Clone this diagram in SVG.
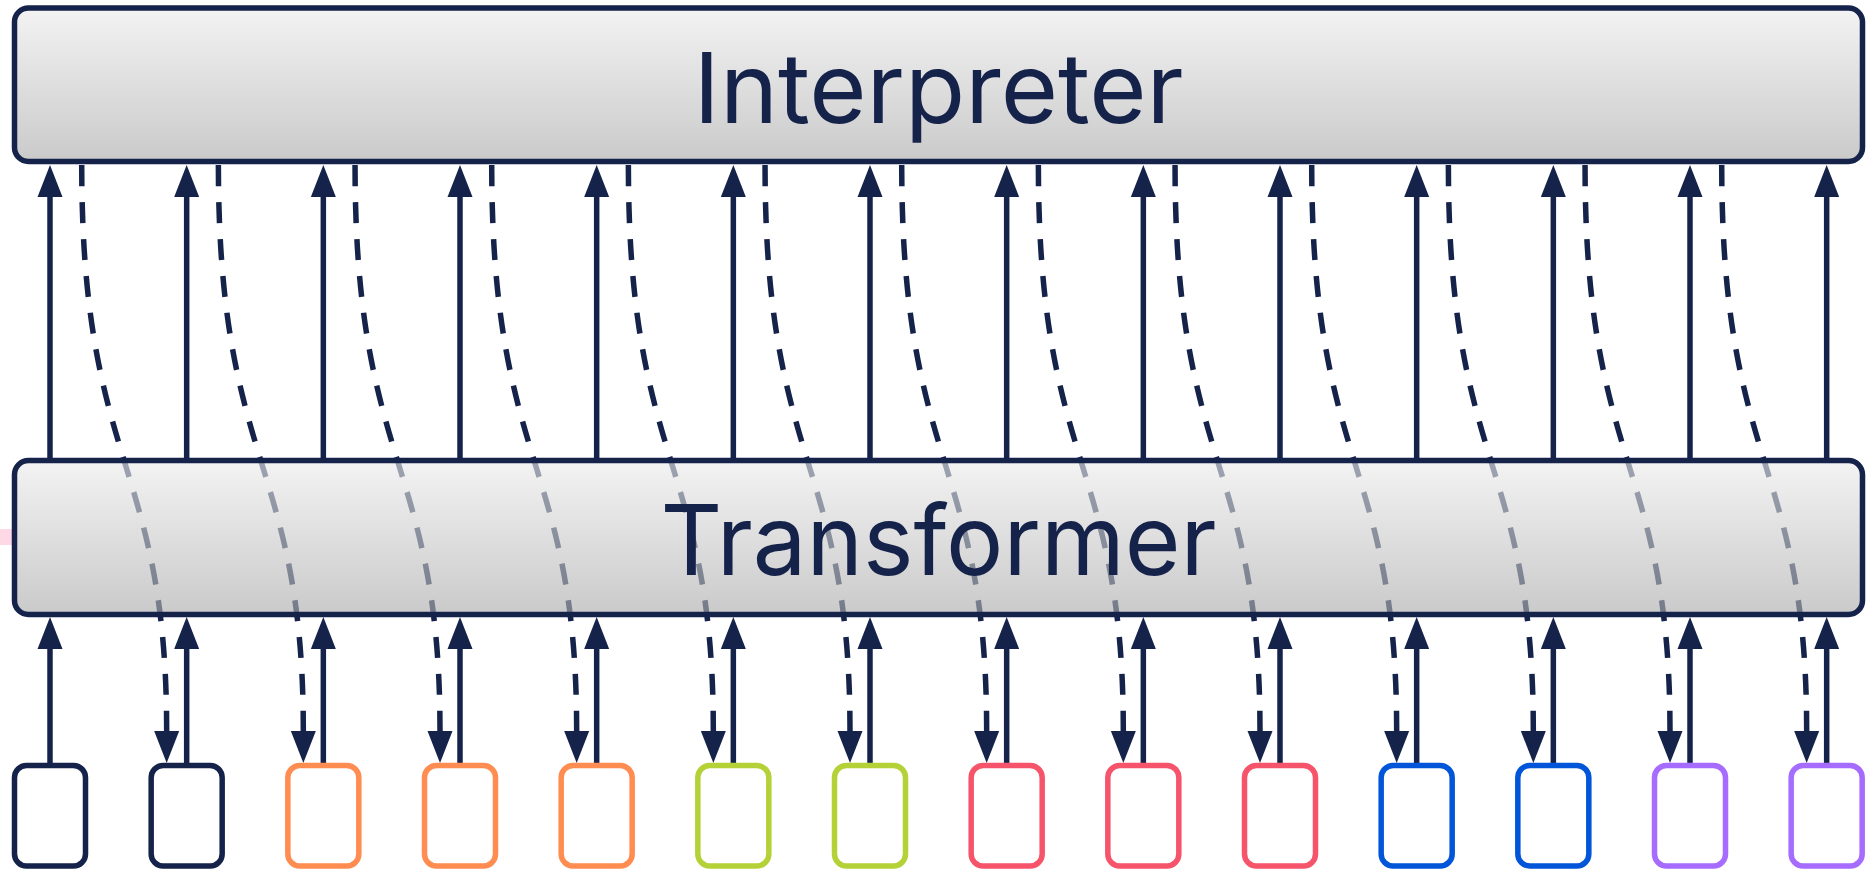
<svg xmlns="http://www.w3.org/2000/svg" width="1870" height="874" viewBox="0 0 1870 874">
<style>
.big{fill:url(#g);fill-opacity:0.64;stroke:#15234B;stroke-width:5.5}
.lbl{font-family:Inter,"Noto Sans",sans-serif;font-size:97px;fill:#15234B;text-anchor:middle}
.up{stroke:#15234B;stroke-width:5.5;fill:none;marker-end:url(#ah)}
.dn{stroke:#15234B;stroke-width:5.5;fill:none;stroke-dasharray:21 16;marker-end:url(#ah)}
.tok{fill:#fff;stroke-width:5.5}
</style>
<defs>
<linearGradient id="g" x1="0" y1="0" x2="0" y2="1">
<stop offset="0" stop-color="#ececec"/>
<stop offset="1" stop-color="#acacac"/>
</linearGradient>
<marker id="ah" markerUnits="userSpaceOnUse" markerWidth="32" markerHeight="25" refX="0" refY="12.5" orient="auto" overflow="visible">
<path d="M0,0 L32,12.5 L0,25 Z" fill="#15234B"/>
</marker>
</defs>
<rect x="0" y="0" width="1870" height="874" fill="#fff"/>
<rect x="0" y="529" width="12" height="16" fill="#FFD8E6"/>
<g id="connectors">
<path class="up" d="M50,458 V197"/>
<path class="up" d="M186.67,458 V197"/>
<path class="up" d="M323.33,458 V197"/>
<path class="up" d="M460,458 V197"/>
<path class="up" d="M596.67,458 V197"/>
<path class="up" d="M733.33,458 V197"/>
<path class="up" d="M870,458 V197"/>
<path class="up" d="M1006.67,458 V197"/>
<path class="up" d="M1143.33,458 V197"/>
<path class="up" d="M1280,458 V197"/>
<path class="up" d="M1416.67,458 V197"/>
<path class="up" d="M1553.33,458 V197"/>
<path class="up" d="M1690,458 V197"/>
<path class="up" d="M1826.67,458 V197"/>
<path class="up" d="M50,763 V649"/>
<path class="up" d="M186.67,763 V649"/>
<path class="up" d="M323.33,763 V649"/>
<path class="up" d="M460,763 V649"/>
<path class="up" d="M596.67,763 V649"/>
<path class="up" d="M733.33,763 V649"/>
<path class="up" d="M870,763 V649"/>
<path class="up" d="M1006.67,763 V649"/>
<path class="up" d="M1143.33,763 V649"/>
<path class="up" d="M1280,763 V649"/>
<path class="up" d="M1416.67,763 V649"/>
<path class="up" d="M1553.33,763 V649"/>
<path class="up" d="M1690,763 V649"/>
<path class="up" d="M1826.67,763 V649"/>
<path class="dn" d="M81.7,165 C81.7,470 166.67,460 166.67,731"/>
<path class="dn" d="M218.37,165 C218.37,470 303.33,460 303.33,731"/>
<path class="dn" d="M355.03,165 C355.03,470 440,460 440,731"/>
<path class="dn" d="M491.7,165 C491.7,470 576.67,460 576.67,731"/>
<path class="dn" d="M628.37,165 C628.37,470 713.33,460 713.33,731"/>
<path class="dn" d="M765.03,165 C765.03,470 850,460 850,731"/>
<path class="dn" d="M901.7,165 C901.7,470 986.67,460 986.67,731"/>
<path class="dn" d="M1038.37,165 C1038.37,470 1123.33,460 1123.33,731"/>
<path class="dn" d="M1175.03,165 C1175.03,470 1260,460 1260,731"/>
<path class="dn" d="M1311.7,165 C1311.7,470 1396.67,460 1396.67,731"/>
<path class="dn" d="M1448.37,165 C1448.37,470 1533.33,460 1533.33,731"/>
<path class="dn" d="M1585.03,165 C1585.03,470 1670,460 1670,731"/>
<path class="dn" d="M1721.7,165 C1721.7,470 1806.67,460 1806.67,731"/>
</g>
<g id="interpreter">
<rect class="big" x="14.5" y="8" width="1848" height="153.5" rx="14"/>
<text class="lbl" x="938.5" y="122.7" textLength="490" lengthAdjust="spacingAndGlyphs">Interpreter</text>
</g>
<g id="transformer">
<rect class="big" x="14.5" y="460.5" width="1848" height="154" rx="14"/>
<text class="lbl" x="938.5" y="575" textLength="556" lengthAdjust="spacingAndGlyphs">Transformer</text>
</g>
<g id="token1"><rect class="tok" x="14.5" y="765.5" width="71" height="100.5" rx="12" stroke="#15234B"/></g>
<g id="token2"><rect class="tok" x="151.17" y="765.5" width="71" height="100.5" rx="12" stroke="#15234B"/></g>
<g id="token3"><rect class="tok" x="287.83" y="765.5" width="71" height="100.5" rx="12" stroke="#FF8C50"/></g>
<g id="token4"><rect class="tok" x="424.5" y="765.5" width="71" height="100.5" rx="12" stroke="#FF8C50"/></g>
<g id="token5"><rect class="tok" x="561.17" y="765.5" width="71" height="100.5" rx="12" stroke="#FF8C50"/></g>
<g id="token6"><rect class="tok" x="697.83" y="765.5" width="71" height="100.5" rx="12" stroke="#B4D237"/></g>
<g id="token7"><rect class="tok" x="834.5" y="765.5" width="71" height="100.5" rx="12" stroke="#B4D237"/></g>
<g id="token8"><rect class="tok" x="971.17" y="765.5" width="71" height="100.5" rx="12" stroke="#F5546B"/></g>
<g id="token9"><rect class="tok" x="1107.83" y="765.5" width="71" height="100.5" rx="12" stroke="#F5546B"/></g>
<g id="token10"><rect class="tok" x="1244.5" y="765.5" width="71" height="100.5" rx="12" stroke="#F5546B"/></g>
<g id="token11"><rect class="tok" x="1381.17" y="765.5" width="71" height="100.5" rx="12" stroke="#0055D8"/></g>
<g id="token12"><rect class="tok" x="1517.83" y="765.5" width="71" height="100.5" rx="12" stroke="#0055D8"/></g>
<g id="token13"><rect class="tok" x="1654.5" y="765.5" width="71" height="100.5" rx="12" stroke="#A66BFF"/></g>
<g id="token14"><rect class="tok" x="1791.17" y="765.5" width="71" height="100.5" rx="12" stroke="#A66BFF"/></g>
</svg>
